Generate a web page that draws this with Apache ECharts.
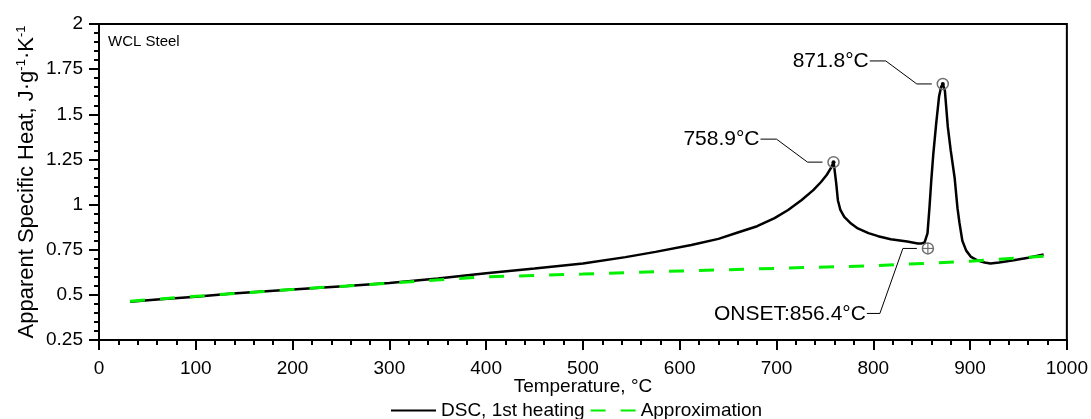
<!DOCTYPE html>
<html>
<head>
<meta charset="utf-8">
<script src="https://cdn.jsdelivr.net/npm/echarts@6/dist/echarts.min.js"></script>
<style>
html,body{margin:0;padding:0;background:#fff;}
#chart{width:1091px;height:419px;}
</style>
</head>
<body>
<div id="chart"></div>
<script>
// ---- data ----
const dscT = [32, 60, 100, 138, 200, 256, 300, 350, 400, 450, 500, 544, 575, 612, 640, 660, 680, 698, 712, 726, 738, 746, 752, 756, 759, 760.5, 761.7, 763.4, 766, 770, 777, 784, 795, 805, 818, 835, 846, 850, 853, 856, 858, 860, 862, 865, 868, 870, 871.8, 874, 877, 880, 884, 887, 889, 892, 896, 901, 908, 915, 921, 930, 945, 960, 976];
const dscV = [0.462, 0.474, 0.49, 0.508, 0.530, 0.549, 0.566, 0.590, 0.620, 0.646, 0.674, 0.709, 0.738, 0.776, 0.81, 0.845, 0.880, 0.925, 0.970, 1.025, 1.080, 1.125, 1.165, 1.200, 1.235, 1.17, 1.117, 1.024, 0.97, 0.932, 0.895, 0.868, 0.842, 0.825, 0.808, 0.795, 0.785, 0.785, 0.79, 0.84, 0.98, 1.14, 1.28, 1.45, 1.6, 1.65, 1.668, 1.63, 1.43, 1.30, 1.15, 0.98, 0.9, 0.8, 0.745, 0.71, 0.69, 0.679, 0.674, 0.679, 0.692, 0.706, 0.724];
const approxT = [32, 100, 200, 300, 400, 500, 600, 700, 800, 900, 976];
const approxV = [0.465, 0.492, 0.530, 0.565, 0.600, 0.615, 0.632, 0.647, 0.661, 0.686, 0.714];
const annT = [758.9, 871.8, 856.4];
const annV = [1.235, 1.668, 0.757];
const annText = ['758.9\u00B0C', '871.8\u00B0C', 'ONSET:856.4\u00B0C'];
const annKind = ['peak', 'peak', 'onset'];
const seriesNames = ['DSC, 1st heating', 'Approximation'];
const xTitle = 'Temperature, \u00B0C';
const yTitle = 'Apparent Specific Heat, J\u00B7g{sup|-1}\u00B7K{sup|-1}';
const sampleLabel = 'WCL Steel';

const FONT = '"Liberation Sans", Arial, sans-serif';
const chart = echarts.init(document.getElementById('chart'), null, {renderer: 'canvas'});

function renderAnn(params, api) {
  const i = api.value(2);
  const p = api.coord([api.value(0), api.value(1)]);
  const kind = annKind[i];
  const children = [];
  let pts, tx, ty;
  if (kind === 'peak') {
    pts = [[p[0] - 11, p[1]], [p[0] - 26, p[1]], [p[0] - 57, p[1] - 23], [p[0] - 73, p[1] - 23]];
    tx = p[0] - 74; ty = p[1] - 23;
    children.push({type: 'circle', shape: {cx: p[0], cy: p[1], r: 5.5},
      style: {fill: 'none', stroke: '#707070', lineWidth: 1.5}});
    children.push({type: 'circle', shape: {cx: p[0], cy: p[1], r: 2},
      style: {fill: '#000'}});
  } else {
    pts = [[p[0] - 11, p[1]], [p[0] - 25, p[1]], [p[0] - 48, p[1] + 65], [p[0] - 61, p[1] + 65]];
    tx = p[0] - 62; ty = p[1] + 66;
    children.push({type: 'circle', shape: {cx: p[0], cy: p[1], r: 5.5},
      style: {fill: 'none', stroke: '#707070', lineWidth: 1.5}});
    children.push({type: 'line', shape: {x1: p[0] - 5.5, y1: p[1], x2: p[0] + 5.5, y2: p[1]},
      style: {stroke: '#707070', lineWidth: 1.2}});
    children.push({type: 'line', shape: {x1: p[0], y1: p[1] - 5.5, x2: p[0], y2: p[1] + 5.5},
      style: {stroke: '#707070', lineWidth: 1.2}});
  }
  children.push({type: 'polyline', shape: {points: pts},
    style: {fill: 'none', stroke: '#000', lineWidth: 1}});
  children.push({type: 'text', style: {text: annText[i], x: tx, y: ty, align: 'right',
    verticalAlign: 'middle', font: '21px ' + FONT, fill: '#000'}});
  return {type: 'group', children: children};
}

const option = {
  animation: false,
  backgroundColor: '#fff',
  textStyle: {fontFamily: FONT},
  title: {
    text: sampleLabel, left: 103, top: 29,
    textStyle: {fontSize: 15, fontWeight: 'normal', color: '#000', fontFamily: FONT}
  },
  grid: {left: 99, right: 22, top: 24, bottom: 79, show: true, borderColor: '#000', borderWidth: 2, backgroundColor: 'transparent'},
  legend: {
    data: seriesNames, left: 390, top: 401, padding: 0, itemWidth: 45, itemHeight: 14, itemGap: 5,
    itemStyle: {opacity: 0},
    textStyle: {fontSize: 19, color: '#000', fontFamily: FONT}
  },
  xAxis: {
    type: 'value', min: 0, max: 1000, interval: 100,
    name: xTitle, nameLocation: 'middle', nameGap: 37, nameMoveOverlap: false,
    nameTextStyle: {fontSize: 19, color: '#000', fontFamily: FONT},
    axisLine: {show: true, onZero: false, lineStyle: {color: '#000', width: 2}},
    axisTick: {show: true, inside: false, length: 10, lineStyle: {color: '#000', width: 2}},
    minorTick: {show: true, splitNumber: 5, length: 5, lineStyle: {color: '#000', width: 2}},
    axisLabel: {fontSize: 19, color: '#000', margin: 19, fontFamily: FONT, formatter: v => String(v)},
    splitLine: {show: false}
  },
  yAxis: {
    type: 'value', min: 0.25, max: 2, interval: 0.25,
    name: yTitle, nameLocation: 'middle', nameGap: 61, nameMoveOverlap: false,
    nameTextStyle: {fontSize: 22, color: '#000', fontFamily: FONT,
      rich: {sup: {fontSize: 13, verticalAlign: 'top', color: '#000', fontFamily: FONT, padding: [0, 0, 10, 0]}}},
    axisLine: {show: true, onZero: false, lineStyle: {color: '#000', width: 2}},
    axisTick: {show: true, inside: false, length: 10, lineStyle: {color: '#000', width: 2}},
    minorTick: {show: true, splitNumber: 5, length: 5, lineStyle: {color: '#000', width: 2}},
    axisLabel: {fontSize: 19, color: '#000', margin: 16, fontFamily: FONT},
    splitLine: {show: false}
  },
  series: [
    {
      name: seriesNames[0], type: 'line', symbol: 'none', smooth: false,
      data: dscT.map((t, i) => [t, dscV[i]]),
      lineStyle: {color: '#000', width: 2.5}, itemStyle: {color: '#000'}, z: 3
    },
    {
      name: seriesNames[1], type: 'line', symbol: 'none', smooth: false,
      data: approxT.map((t, i) => [t, approxV[i]]),
      lineStyle: {color: '#00f000', width: 3, type: [15, 15]}, itemStyle: {color: '#00f000'}, z: 4
    },
    {
      name: 'annotations', type: 'custom', renderItem: renderAnn, z: 5,
      data: annT.map((t, i) => [t, annV[i], i]), silent: true
    }
  ]
};
chart.setOption(option);
</script>
</body>
</html>
